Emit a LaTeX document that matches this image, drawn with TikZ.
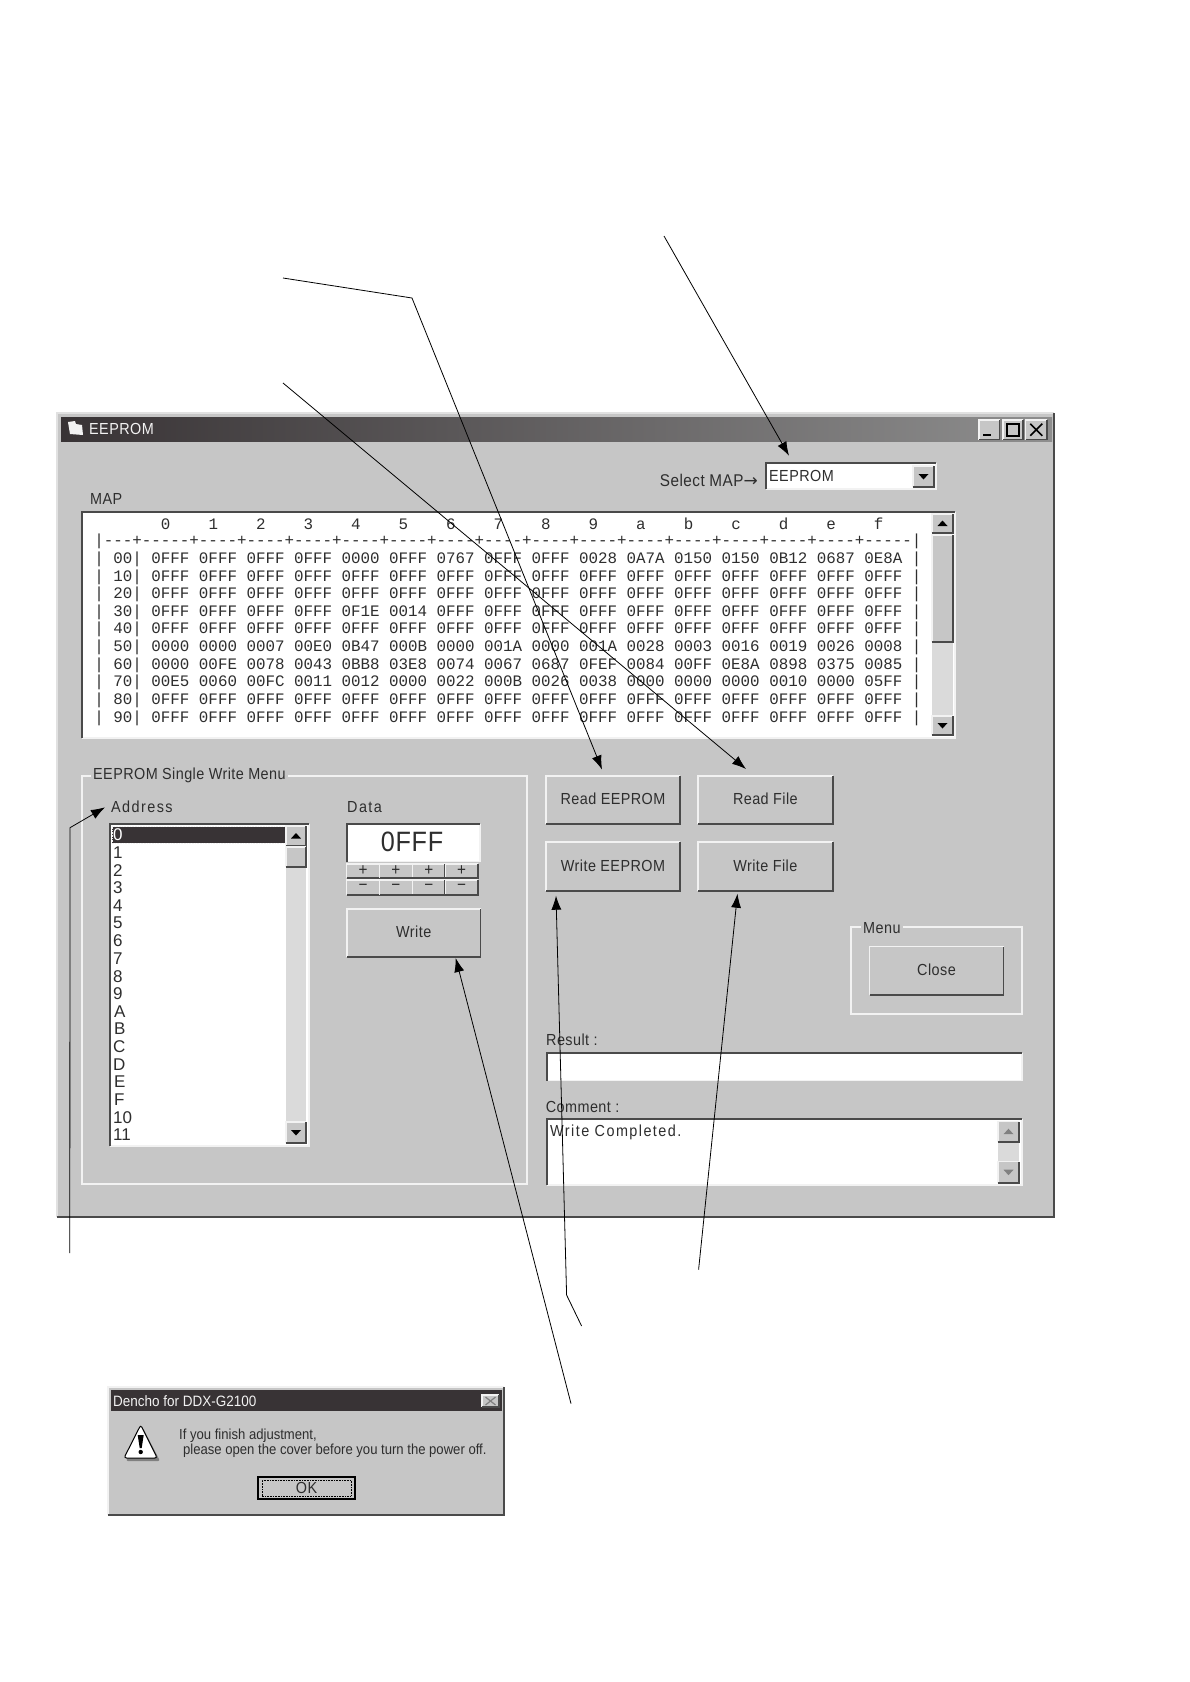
\documentclass[tikz,border=0pt]{standalone}
\usepackage{fontspec}
\setmainfont{Liberation Sans}
\setmonofont[FakeStretch=0.99]{Liberation Mono}
\newfontfamily\uifont[FakeStretch=0.9,LetterSpace=2.7]{Liberation Sans}
\newfontfamily\uiwide[FakeStretch=0.9,LetterSpace=9]{Liberation Sans}
\newfontfamily\dlgfont[FakeStretch=0.9]{Liberation Sans}
\newfontfamily\arrowfont{DejaVu Sans}
\usetikzlibrary{arrows.meta}
\definecolor{winbg}{HTML}{C6C6C6}
\definecolor{ink}{HTML}{2E2E2E}
\definecolor{shade}{HTML}{4A4A4A}
\definecolor{hilite}{HTML}{F2F2F2}
\definecolor{dither}{HTML}{DADADA}
\definecolor{barleft}{HTML}{383335}
\definecolor{barright}{HTML}{8E8E8E}
\tikzset{
  ui/.style={font=\uifont\fontsize{16}{18}\selectfont,text=ink,inner sep=0pt},
  uiw/.style={font=\uiwide\fontsize{16}{18}\selectfont,text=ink,inner sep=0pt},
  uismall/.style={font=\dlgfont\fontsize{14.55}{16}\selectfont,text=ink,inner sep=0pt},
  uilist/.style={font=\rmfamily\fontsize{17}{18}\selectfont,text=ink,inner sep=0pt,anchor=west},
  maptext/.style={font=\ttfamily\fontsize{16}{16}\selectfont,text=ink,inner sep=0pt,anchor=west},
  boxnode/.style={rectangle,inner sep=0pt,outer sep=0pt},
  groove/.style={draw=hilite,line width=1.2pt},
  lite/.style={draw=hilite,line width=1.4pt},
  dark/.style={draw=shade,line width=1.6pt},
  pointer/.style={draw=black,line width=0.8pt,-{Latex[length=14pt,width=10pt]}},
}
% a raised control: name, x1, y1, x2, y2, text
\newcommand\uibtn[6]{%
  \node[boxnode,ui,fill=winbg,minimum width={(#4-#2)*1pt},minimum height={(#5-#3)*1pt}]
    (#1) at ({(#2+#4)/2},{(#3+#5)/2}) {\raisebox{2pt}{#6}};
  \draw[lite] (#1.south west)--(#1.north west)--(#1.north east);
  \draw[dark] (#1.south west)--(#1.south east)--(#1.north east);}
% a small raised control with a sign: name, x1, y1, x2, y2, sign
\newcommand\uisign[6]{%
  \node[boxnode,ui,fill=winbg,font=\uifont\fontsize{17}{17}\selectfont,minimum width={(#4-#2)*1pt},minimum height={(#5-#3)*1pt}]
    (#1) at ({(#2+#4)/2},{(#3+#5)/2}) {#6};
  \draw[lite] (#1.south west)--(#1.north west)--(#1.north east);
  \draw[dark] (#1.south west)--(#1.south east)--(#1.north east);}
% a sunken white field: name, x1, y1, x2, y2
\newcommand\uifield[5]{%
  \node[boxnode,fill=white,minimum width={(#4-#2)*1pt},minimum height={(#5-#3)*1pt}]
    (#1) at ({(#2+#4)/2},{(#3+#5)/2}) {};
  \draw[lite] (#1.south west)--(#1.south east)--(#1.north east);
  \draw[dark] (#1.south west)--(#1.north west)--(#1.north east);}
% scroll arrows on a control: name, colour
\newcommand\uparrowon[2]{\fill[#2] ([shift={(-5,2.5)}]#1.center)--([shift={(5,2.5)}]#1.center)--([shift={(0,-3)}]#1.center)--cycle;}
\newcommand\downarrowon[2]{\fill[#2] ([shift={(-5,-2.5)}]#1.center)--([shift={(5,-2.5)}]#1.center)--([shift={(0,3)}]#1.center)--cycle;}
\def\rowA{| 00| 0FFF 0FFF 0FFF 0FFF 0000 0FFF 0767 0FFF 0FFF 0028 0A7A 0150 0150 0B12 0687 0E8A |}
\def\rowB#1{| #1| 0FFF 0FFF 0FFF 0FFF 0FFF 0FFF 0FFF 0FFF 0FFF 0FFF 0FFF 0FFF 0FFF 0FFF 0FFF 0FFF |}
\def\rowC{| 30| 0FFF 0FFF 0FFF 0FFF 0F1E 0014 0FFF 0FFF 0FFF 0FFF 0FFF 0FFF 0FFF 0FFF 0FFF 0FFF |}
\def\rowD{| 50| 0000 0000 0007 00E0 0B47 000B 0000 001A 0000 001A 0028 0003 0016 0019 0026 0008 |}
\def\rowE{| 60| 0000 00FE 0078 0043 0BB8 03E8 0074 0067 0687 0FEF 0084 00FF 0E8A 0898 0375 0085 |}
\def\rowF{| 70| 00E5 0060 00FC 0011 0012 0000 0022 000B 0026 0038 0000 0000 0000 0010 0000 05FF |}
\begin{document}
\begin{tikzpicture}[x=1pt,y=-1pt]
\useasboundingbox[fill=white] (0,0) rectangle (1190,1682);
% window
\node[boxnode,fill=winbg,minimum width=997pt,minimum height=804pt] (win) at (555.5,815) {};
\draw[draw=hilite!85!gray,line width=1.4pt] (win.south west)--(win.north west)--(win.north east);
\draw[draw=shade,line width=1.6pt] (win.south west)--(win.south east)--(win.north east);
\node[boxnode,left color=barleft,right color=barright,minimum width=991pt,minimum height=24pt] (bar) at (556.5,429.5) {};
\fill[hilite] (68,422)--(75,421)--(76,424)--(82,425)--(83,435)--(70,434)--cycle;
\node[ui,text=hilite,anchor=west] (wintitle) at (89,429) {EEPROM};
\uibtn{minb}{979}{420}{999.5}{439.5}{}
\uibtn{maxb}{1003}{420}{1023}{439.5}{}
\uibtn{closeb}{1025.5}{420}{1047}{439.5}{}
\draw[black,line width=2pt] ([shift={(-6,5)}]minb.center)--([shift={(2,5)}]minb.center);
\draw[black,line width=1.5pt] ([shift={(-6,-6)}]maxb.center) rectangle ([shift={(6,6)}]maxb.center);
\draw[black,line width=1.5pt] ([shift={(-6,-6)}]closeb.center)--([shift={(6,6)}]closeb.center) ([shift={(6,-6)}]closeb.center)--([shift={(-6,6)}]closeb.center);
% select map
\node[ui,font=\uifont\fontsize{17}{18}\selectfont,anchor=east] (selmap) at (758,480) {Select MAP{\arrowfont\fontsize{17}{18}\selectfont→}};
\uifield{combo}{766}{463}{936}{489}
\node[ui,anchor=west] (combotext) at (769,475.7) {EEPROM};
\uibtn{combob}{913}{466}{934}{487}{}
\downarrowon{combob}{black}
% map
\node[ui,anchor=west] (maplabel) at (90,498.5) {MAP};
\uifield{mapbox}{82}{512}{955}{738}
\node[maptext] (maphead) at (94.25,523.5) {~~~~~~~0~~~~1~~~~2~~~~3~~~~4~~~~5~~~~6~~~~7~~~~8~~~~9~~~~a~~~~b~~~~c~~~~d~~~~e~~~~f};
\node[maptext] (mapdash) at (94.25,540.9) {|---+-----+----+----+----+----+----+----+----+----+----+----+----+----+----+----+-----|};
\node[maptext] (row0) at (94.25,559.3) {\rowA};
\node[maptext] (row1) at (94.25,576.9) {\rowB{10}};
\node[maptext] (row2) at (94.25,594.5) {\rowB{20}};
\node[maptext] (row3) at (94.25,612.1) {\rowC};
\node[maptext] (row4) at (94.25,629.7) {\rowB{40}};
\node[maptext] (row5) at (94.25,647.3) {\rowD};
\node[maptext] (row6) at (94.25,664.9) {\rowE};
\node[maptext] (row7) at (94.25,682.5) {\rowF};
\node[maptext] (row8) at (94.25,700.1) {\rowB{80}};
\node[maptext] (row9) at (94.25,717.9) {\rowB{90}};
\fill[dither] (932,533) rectangle (953,735);
\uibtn{mapup}{932}{514}{953}{533}{}
\uparrowon{mapup}{black}
\uibtn{mapthumb}{932}{535}{953}{642}{}
\uibtn{mapdown}{932}{716}{953}{735}{}
\downarrowon{mapdown}{black}
% single write group
\draw[groove] (82,776) rectangle (527,1184);
\node[ui,fill=winbg,inner sep=2pt,anchor=west] (grouptitle) at (91,775) {EEPROM Single Write Menu};
\node[uiw,anchor=west] (addrlabel) at (111,807) {Address};
\node[uiw,anchor=west] (datalabel) at (347,807) {Data};
\uifield{listbox}{110}{824}{309}{1146}
\fill[barleft] (112,826.7) rectangle (285,843);
\draw[hilite,densely dotted,line width=0.6pt] (112,826.7) rectangle (285,843);
\node[uilist,text=white] (item0) at (113,835) {0};
\node[uilist] (item1) at (113,852.6) {1};
\node[uilist] (item2) at (113,870.3) {2};
\node[uilist] (item3) at (113,888) {3};
\node[uilist] (item4) at (113,905.6) {4};
\node[uilist] (item5) at (113,923.2) {5};
\node[uilist] (item6) at (113,940.9) {6};
\node[uilist] (item7) at (113,958.5) {7};
\node[uilist] (item8) at (113,976.2) {8};
\node[uilist] (item9) at (113,993.8) {9};
\node[uilist] (itemA) at (114,1011.5) {A};
\node[uilist] (itemB) at (114,1029.1) {B};
\node[uilist] (itemC) at (113,1046.8) {C};
\node[uilist] (itemD) at (113,1064.4) {D};
\node[uilist] (itemE) at (114,1082.1) {E};
\node[uilist] (itemF) at (114,1099.7) {F};
\node[uilist] (item10) at (113,1117.4) {10};
\node[uilist] (item11) at (113,1135) {11};
\fill[dither] (286,846) rectangle (306,1122);
\uibtn{listup}{286}{826}{306}{846}{}
\uparrowon{listup}{black}
\uibtn{listthumb}{286}{847}{306}{866.7}{}
\uibtn{listdown}{286}{1122}{306}{1143}{}
\downarrowon{listdown}{black}
\uifield{databox}{347}{824}{480}{861.7}
\node[ui,font=\uifont\fontsize{28}{30}\selectfont] (dataval) at (412,842) {0FFF};
\uisign{pa}{346.7}{864}{379.5}{878}{+}
\uisign{pb}{379.5}{864}{412.4}{878}{+}
\uisign{pc}{412.4}{864}{445.2}{878}{+}
\uisign{pd}{445.2}{864}{478}{878}{+}
\uisign{ma}{346.7}{880}{379.5}{895}{−}
\uisign{mb}{379.5}{880}{412.4}{895}{−}
\uisign{mc}{412.4}{880}{445.2}{895}{−}
\uisign{md}{445.2}{880}{478}{895}{−}
\uibtn{writeb}{347}{909}{480.5}{957}{Write}
% action buttons
\uibtn{readee}{546}{776}{680}{824}{Read EEPROM}
\uibtn{readfile}{698}{776}{832.7}{824}{Read File}
\uibtn{writeee}{546}{842}{680}{890.7}{Write EEPROM}
\uibtn{writefile}{698}{842}{832.7}{890.7}{Write File}
% menu group
\draw[groove] (851,927) rectangle (1022,1014);
\node[ui,fill=winbg,inner sep=2pt,anchor=west] (menulabel) at (861,927.7) {Menu};
\uibtn{closebtn}{869.5}{946.7}{1003.5}{995}{Close}
% result, comment
\node[ui,anchor=west] (resultlabel) at (546,1040) {Result :};
\uifield{resultbox}{547}{1052.7}{1022}{1080.7}
\node[ui,anchor=west] (commentlabel) at (545.7,1106.7) {Comment :};
\uifield{commentbox}{547}{1119}{1022}{1185}
\node[uiw,anchor=west] (commenttext) at (550,1132) {Write Completed.};
\fill[dither] (998,1141) rectangle (1019,1162);
\uibtn{comup}{998}{1121.7}{1019}{1141.7}{}
\uparrowon{comup}{gray}
\uibtn{comdown}{998}{1161.7}{1019}{1182.7}{}
\downarrowon{comdown}{gray}
% dialog
\node[boxnode,fill=winbg,minimum width=396pt,minimum height=128pt] (dlg) at (306,1451) {};
\draw[lite] (dlg.south west)--(dlg.north west)--(dlg.north east);
\draw[dark] (dlg.south west)--(dlg.south east)--(dlg.north east);
\node[boxnode,fill=barleft,minimum width=391pt,minimum height=21pt] (dlgbar) at (306.2,1400.5) {};
\node[ui,font=\dlgfont\fontsize{15}{16}\selectfont,text=hilite,anchor=west] (dlgtitle) at (113,1400.7) {Dencho for DDX-G2100};
\uibtn{dlgclose}{482}{1395}{499}{1407}{}
\draw[gray,line width=1.2pt] ([shift={(-5,-4)}]dlgclose.center)--([shift={(5,4)}]dlgclose.center) ([shift={(5,-4)}]dlgclose.center)--([shift={(-5,4)}]dlgclose.center);
\fill[gray,rounded corners=2pt] (143,1428)--(126,1461)--(160,1461)--cycle;
\draw[black,fill=white,line width=1pt,rounded corners=2.5pt] (140.7,1425)--(124,1458)--(157.3,1458)--cycle;
\fill[black] (137.7,1435) -- (143.7,1435) -- (141.7,1448) -- (139.7,1448) -- cycle;
\fill[black] (140.7,1452) circle (2.2pt);
\node[uismall,anchor=west] (dlgline1) at (179,1435.7) {If you finish adjustment,};
\node[uismall,anchor=west] (dlgline2) at (183,1450.6) {please open the cover before you turn the power off.};
\node[boxnode,ui,fill=winbg,draw=black,line width=1.2pt,minimum width=97pt,minimum height=22pt] (okb) at (306.5,1488) {OK};
\draw[black,densely dotted,line width=0.6pt] ([shift={(4,-3)}]okb.south west) rectangle ([shift={(-4,3)}]okb.north east);
% pointers
\coordinate (tailA) at (664,236);
\coordinate (tipA) at ([shift={(23,-7.3)}]combo.north west);
\coordinate (tailB) at (283,278);
\coordinate (bendB) at (412,298);
\coordinate (tipB) at ([shift={(56,-6.5)}]readee.north west);
\coordinate (tailC) at (283,383);
\coordinate (tipC) at ([shift={(48,-7)}]readfile.north west);
\coordinate (tailD) at (581.6,1326);
\coordinate (bendD) at (566.6,1295);
\coordinate (tipD) at ([shift={(10,5)}]writeee.south west);
\coordinate (tailE) at (698.6,1269.5);
\coordinate (tipE) at ([shift={(39.5,3)}]writefile.south west);
\coordinate (tailF) at (571,1403.6);
\coordinate (tipF) at ([shift={(108.7,1)}]writeb.south west);
\coordinate (tailG) at (69.8,1253);
\coordinate (bendG) at (70,827.7);
\coordinate (tipG) at ([shift={(-6,0.3)}]addrlabel.west);
\draw[pointer] (tailA)--(tipA);
\draw[pointer] (tailB)--(bendB)--(tipB);
\draw[pointer] (tailC)--(tipC);
\draw[pointer] (tailD)--(bendD)--(tipD);
\draw[pointer] (tailE)--(tipE);
\draw[pointer] (tailF)--(tipF);
\draw[pointer] (tailG)--(bendG)--(tipG);
\end{tikzpicture}
\end{document}
